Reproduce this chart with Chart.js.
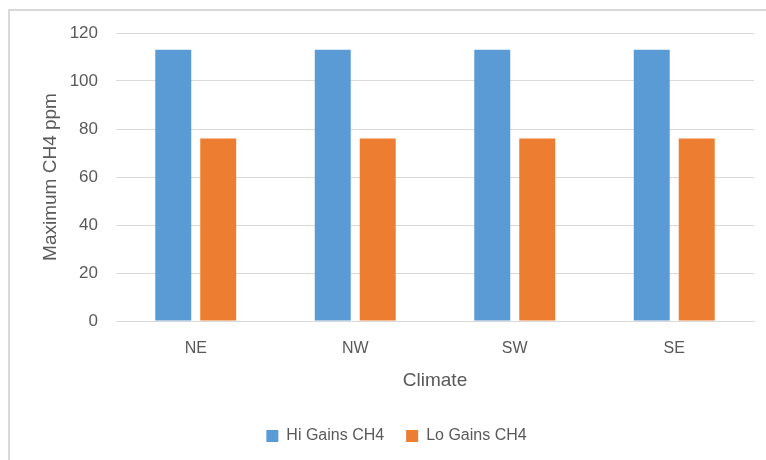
<!DOCTYPE html>
<html>
<head>
<meta charset="utf-8">
<script src="https://cdn.jsdelivr.net/npm/chart.js@4"></script>
<style>
  html, body { margin: 0; padding: 0; background: #fff; overflow: hidden; }
  #frame {
    position: absolute; left: 8px; top: 9px; width: 800px; height: 500px;
    border: 2px solid #d9d9d9; box-sizing: border-box;
  }
  #ch4Chart { position: absolute; left: 0; top: 0; }
</style>
</head>
<body>
<div id="frame"></div>
<canvas id="ch4Chart" width="766" height="460"></canvas>
<script>
const climates = ["NE", "NW", "SW", "SE"]
const hiGains = [113, 113, 113, 113]
const loGains = [76, 76, 76, 76]
const yTicks = [0, 20, 40, 60, 80, 100, 120]

const textColor = "#595959"
const gridColor = "#d9d9d9"
const fontFamily = "'Liberation Sans', Arial, sans-serif"

new Chart(document.getElementById("ch4Chart"), {
  type: "bar",
  data: {
    labels: climates,
    datasets: [
      { label: "Hi Gains CH4", data: hiGains, backgroundColor: "#5b9bd5" },
      { label: "Lo Gains CH4", data: loGains, backgroundColor: "#ed7d31" }
    ]
  },
  options: {
    responsive: false,
    animation: false,
    devicePixelRatio: 1,
    categoryPercentage: 0.564,
    barPercentage: 0.8,
    layout: { padding: { left: 39, right: 12, top: 33, bottom: 6 } },
    plugins: {
      tooltip: { enabled: false },
      legend: {
        position: "bottom",
        labels: {
          boxWidth: 12,
          boxHeight: 12,
          padding: 22,
          color: textColor,
          font: { family: fontFamily, size: 16 }
        }
      }
    },
    scales: {
      x: {
        grid: { display: false },
        border: { display: true, color: gridColor, width: 1 },
        ticks: { color: textColor, padding: 10, font: { family: fontFamily, size: 16 } },
        title: {
          display: true,
          text: "Climate",
          color: textColor,
          padding: { top: 0, bottom: 14 },
          font: { family: fontFamily, size: 19 }
        },
        afterFit: (scale) => { scale.height = 85 }
      },
      y: {
        min: 0,
        max: 120,
        afterBuildTicks: (scale) => { scale.ticks = yTicks.map((v) => ({ value: v })) },
        grid: { color: gridColor, drawTicks: false },
        border: { display: false },
        ticks: { color: textColor, padding: 18, font: { family: fontFamily, size: 17 } },
        title: {
          display: true,
          text: "Maximum CH4 ppm",
          color: textColor,
          padding: { top: 0, bottom: 0 },
          font: { family: fontFamily, size: 19 }
        },
        afterFit: (scale) => { scale.width = 77 }
      }
    }
  }
})
</script>
</body>
</html>
